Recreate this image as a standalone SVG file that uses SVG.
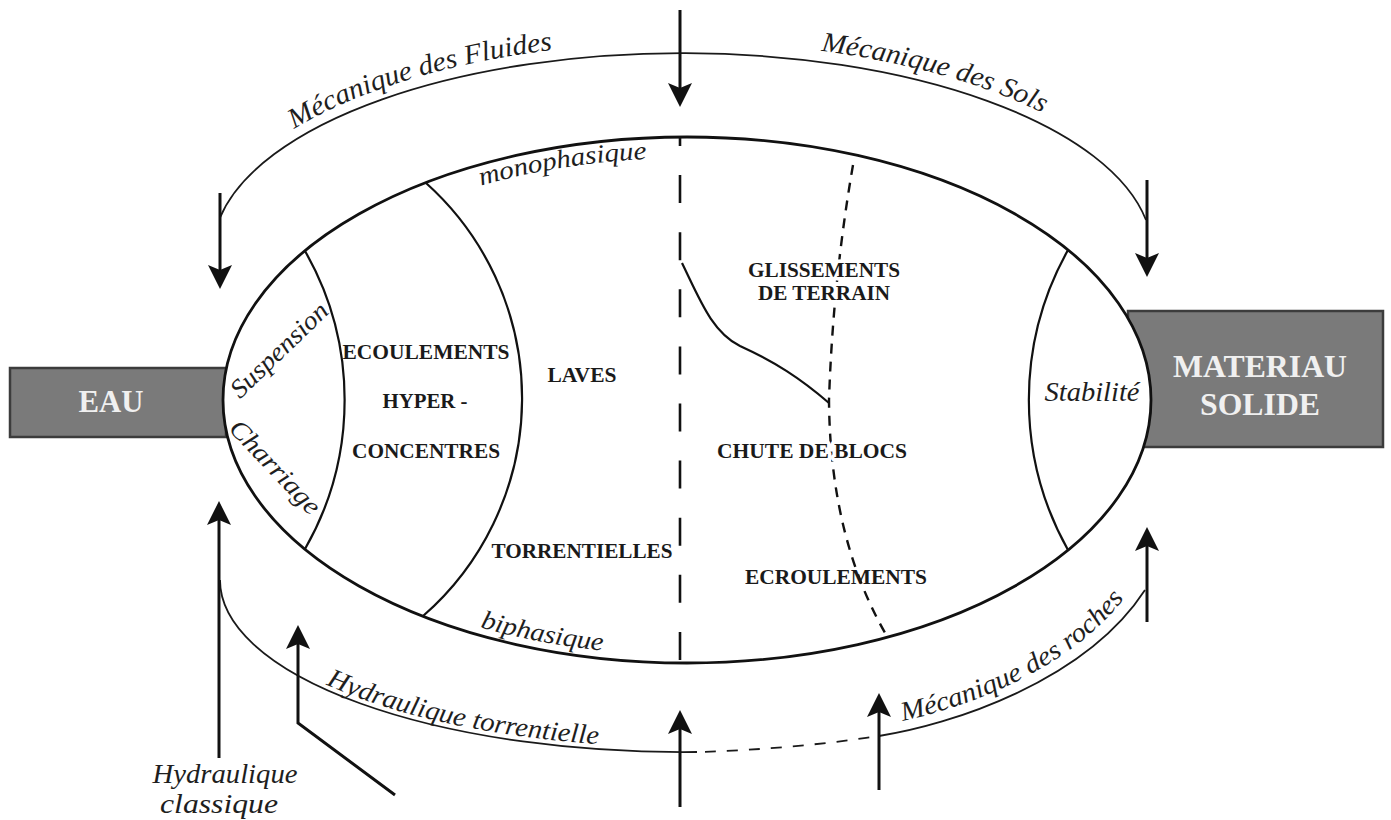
<svg xmlns="http://www.w3.org/2000/svg" xmlns:xlink="http://www.w3.org/1999/xlink" width="1391" height="820" viewBox="0 0 1391 820">
<style>
.it{font-family:"Liberation Serif","Times New Roman",serif;font-style:italic;fill:#1e1e1e;}
.b{font-family:"Liberation Serif","Times New Roman",serif;font-weight:bold;font-size:21px;fill:#1a1a1a;text-anchor:middle;}
.halo{stroke:#fff;stroke-width:7px;paint-order:stroke;stroke-linejoin:round;}
.w{font-family:"Liberation Serif","Times New Roman",serif;font-weight:bold;fill:#f0f0f0;text-anchor:middle;}
.box{fill:#7a7a7a;stroke:#3c3c3c;stroke-width:2.5;}
.line{fill:none;stroke:#111;stroke-width:2.2;}
.thin{fill:none;stroke:#1a1a1a;stroke-width:1.8;}
.arrow{fill:none;stroke:#111;stroke-width:3;marker-end:url(#ah);}
</style>
<defs>
<marker id="ah" markerUnits="userSpaceOnUse" markerWidth="26" markerHeight="24" viewBox="0 0 26 24" refX="20" refY="12" orient="auto">
<path d="M0,0 L24,12 L0,24 L5,12 z" fill="#111"/>
</marker>
<path id="p-fluides" d="M203,252 A480,210 0 0 1 1163,252"/>
<path id="p-mono" d="M243,400 A444,242 0 0 1 1131,400"/>
<path id="p-bi" d="M231,400 A456,255 0 0 0 1143,400"/>
<path id="p-hyd" d="M225,580 A458,167 0 0 0 1141,580"/>
<path id="p-roches" d="M885,724 C955,713 1080,670 1135,583"/>
</defs>
<rect width="1391" height="820" fill="#fff"/>

<g id="eau">
<rect class="box" x="10" y="368" width="216" height="69"/>
</g>
<g id="materiau-solide">
<rect class="box" x="1128" y="311" width="255" height="136"/>
</g>

<g id="domaine">
<ellipse cx="687" cy="400" rx="464" ry="263" fill="#fff" stroke="#111" stroke-width="2.8"/>
<path class="line" d="M305,251 A300,300 0 0 1 305,549"/>
<path class="line" d="M426,183 A289,289 0 0 1 423,616"/>
<path class="line" d="M1068,250 A307,307 0 0 0 1068,550"/>
<line x1="680" y1="137" x2="680" y2="663" stroke="#111" stroke-width="2.6" stroke-dasharray="28 29.1" stroke-dashoffset="19"/>
<path class="line" d="M682,263 C700,300 712,332 740,346 C775,362 800,378 829,403"/>
<path fill="none" stroke="#111" stroke-width="2.4" stroke-dasharray="10 8" d="M853,165 Q833,280 829,400 Q830,540 888,638"/>
</g>

<g id="connecteurs">
<path class="thin" d="M220,217.6 A470,200 0 0 1 1146,220"/>
<path class="thin" d="M220,580 A463,172 0 0 0 697,752"/>
<path class="thin" stroke-dasharray="11 11" d="M705,751.8 C760,750 820,745 879,736"/>
<path class="thin" d="M879,736 C950,725 1085,682 1145,590"/>
<line class="arrow" x1="680" y1="10" x2="680" y2="103"/>
<line class="arrow" x1="220" y1="193" x2="220" y2="285"/>
<line class="arrow" x1="1147" y1="180" x2="1147" y2="273"/>
<line class="arrow" x1="219" y1="758" x2="219" y2="505"/>
<polyline class="arrow" points="395,795 298,723 298,629"/>
<line class="arrow" x1="680" y1="807" x2="680" y2="714"/>
<line class="arrow" x1="879" y1="790" x2="879" y2="697"/>
<line class="arrow" x1="1147" y1="622" x2="1147" y2="531"/>
</g>

<g id="labels">
<text class="w" x="111" y="412" font-size="32" textLength="65" lengthAdjust="spacingAndGlyphs">EAU</text>
<text class="w" x="1260" y="377" font-size="31" textLength="174" lengthAdjust="spacingAndGlyphs">MATERIAU</text>
<text class="w" x="1260" y="415" font-size="31" textLength="120" lengthAdjust="spacingAndGlyphs">SOLIDE</text>

<text class="it" font-size="28"><textPath xlink:href="#p-fluides" href="#p-fluides" startOffset="160" textLength="272" lengthAdjust="spacingAndGlyphs">Mécanique des Fluides</textPath></text>
<text class="it" font-size="28"><textPath xlink:href="#p-fluides" href="#p-fluides" startOffset="701" textLength="231" lengthAdjust="spacingAndGlyphs">Mécanique des Sols</textPath></text>
<text class="it" font-size="26"><textPath xlink:href="#p-mono" href="#p-mono" startOffset="342" textLength="168" lengthAdjust="spacingAndGlyphs">monophasique</textPath></text>
<text class="it" font-size="26"><textPath xlink:href="#p-bi" href="#p-bi" startOffset="360" textLength="125" lengthAdjust="spacingAndGlyphs">biphasique</textPath></text>
<text class="it" font-size="27"><textPath xlink:href="#p-hyd" href="#p-hyd" startOffset="153" textLength="280" lengthAdjust="spacingAndGlyphs">Hydraulique torrentielle</textPath></text>
<text class="it" font-size="27"><textPath xlink:href="#p-roches" href="#p-roches" startOffset="18" textLength="258" lengthAdjust="spacingAndGlyphs">Mécanique des roches</textPath></text>

<text class="it" font-size="26" text-anchor="middle" transform="translate(285,356) rotate(-44)" textLength="125" lengthAdjust="spacingAndGlyphs">Suspension</text>
<text class="it" font-size="26" text-anchor="middle" transform="translate(269,473) rotate(46.5)" textLength="120" lengthAdjust="spacingAndGlyphs">Charriage</text>
<text class="it" font-size="27" text-anchor="middle" x="1092" y="401" textLength="95" lengthAdjust="spacingAndGlyphs">Stabilité</text>
<text class="it" font-size="28" text-anchor="middle" x="225" y="783" textLength="145" lengthAdjust="spacingAndGlyphs">Hydraulique</text>
<text class="it" font-size="28" text-anchor="middle" x="219" y="813" textLength="118" lengthAdjust="spacingAndGlyphs">classique</text>

<text class="b" x="426" y="359" textLength="167" lengthAdjust="spacingAndGlyphs">ECOULEMENTS</text>
<text class="b" x="425" y="408" textLength="85" lengthAdjust="spacingAndGlyphs">HYPER -</text>
<text class="b" x="426" y="458" textLength="148" lengthAdjust="spacingAndGlyphs">CONCENTRES</text>
<text class="b" x="582" y="382" textLength="69" lengthAdjust="spacingAndGlyphs">LAVES</text>
<text class="b" x="582" y="558" textLength="181" lengthAdjust="spacingAndGlyphs">TORRENTIELLES</text>
<text class="b halo" x="824" y="277" textLength="152" lengthAdjust="spacingAndGlyphs">GLISSEMENTS</text>
<text class="b halo" x="824" y="300" textLength="132" lengthAdjust="spacingAndGlyphs">DE TERRAIN</text>
<text class="b halo" x="812" y="458" textLength="190" lengthAdjust="spacingAndGlyphs">CHUTE DE BLOCS</text>
<text class="b" x="836" y="584" textLength="182" lengthAdjust="spacingAndGlyphs">ECROULEMENTS</text>
</g>
</svg>
